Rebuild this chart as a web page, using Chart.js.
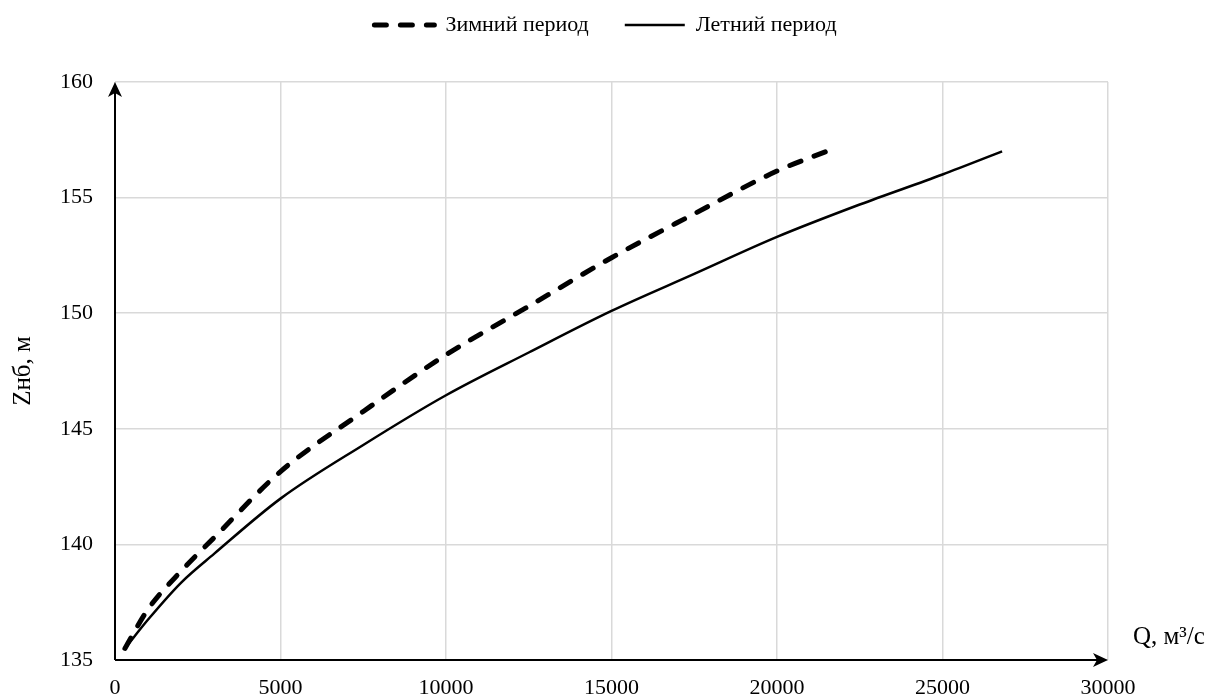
<!DOCTYPE html>
<html>
<head>
<meta charset="utf-8">
<script src="https://cdn.jsdelivr.net/npm/chart.js@4/dist/chart.umd.min.js"></script>
<style>
  html, body { margin: 0; padding: 0; background: #fff; }
  #wrap { width: 1211px; height: 699px; }
</style>
</head>
<body>
<div id="wrap"><canvas id="myChart" width="1211" height="699"></canvas></div>
<script>
// winter curve (dashed)
var winterQ = [300, 1000, 2000, 3000, 5000, 7500, 10000, 12500, 15000, 17500, 20000, 21500];
var winterZ = [135.5, 137.2, 138.85, 140.3, 143.15, 145.75, 148.2, 150.3, 152.4, 154.3, 156.15, 157.0];

// summer curve (solid)
var summerQ = [300, 1000, 2000, 3000, 5000, 7500, 10000, 12500, 15000, 17500, 20000, 22500, 25000, 26800];
var summerZ = [135.5, 136.75, 138.35, 139.6, 141.98, 144.3, 146.45, 148.3, 150.1, 151.7, 153.3, 154.7, 156.0, 157.0];

var seriesNames = ['Зимний период', 'Летний период'];
var xTitle = 'Q, м³/с';
var yTitle = 'Zнб, м';

function toPoints(xs, ys) {
    var pts = [];
    for (var i = 0; i < xs.length; i++) {
        pts.push({ x: xs[i], y: ys[i] });
    }
    return pts;
}

var serif = "'Liberation Serif', 'Times New Roman', serif";

// black axes with arrow heads + the Q label next to the arrow
var axesArrows = {
    id: 'axesArrows',
    afterDatasetsDraw: function (chart) {
        var ctx = chart.ctx;
        var a = chart.chartArea;
        ctx.save();
        ctx.strokeStyle = '#000';
        ctx.fillStyle = '#000';
        ctx.lineWidth = 2;
        ctx.beginPath();
        ctx.moveTo(a.left, a.bottom);
        ctx.lineTo(a.left, a.top + 8);
        ctx.moveTo(a.left, a.bottom);
        ctx.lineTo(a.right - 8, a.bottom);
        ctx.stroke();

        ctx.beginPath();
        ctx.moveTo(a.left, a.top);
        ctx.lineTo(a.left - 7, a.top + 15);
        ctx.lineTo(a.left, a.top + 11);
        ctx.lineTo(a.left + 7, a.top + 15);
        ctx.closePath();
        ctx.fill();

        ctx.beginPath();
        ctx.moveTo(a.right, a.bottom);
        ctx.lineTo(a.right - 15, a.bottom - 7);
        ctx.lineTo(a.right - 11, a.bottom);
        ctx.lineTo(a.right - 15, a.bottom + 7);
        ctx.closePath();
        ctx.fill();

        ctx.font = '25px ' + serif;
        ctx.textAlign = 'left';
        ctx.textBaseline = 'middle';
        ctx.fillText(xTitle, a.right + 25, a.bottom - 23);
        ctx.restore();
    }
};

var ctx = document.querySelector('#myChart').getContext('2d');
var myChart = new Chart(ctx, {
    type: 'line',
    data: {
        datasets: [{
            label: seriesNames[0],
            data: toPoints(winterQ, winterZ),
            borderColor: '#000',
            backgroundColor: '#000',
            borderWidth: 5,
            borderDash: [12, 14],
            borderCapStyle: 'round',
            pointRadius: 0,
            cubicInterpolationMode: 'monotone',
            fill: false
        }, {
            label: seriesNames[1],
            data: toPoints(summerQ, summerZ),
            borderColor: '#000',
            backgroundColor: '#000',
            borderWidth: 2.5,
            pointRadius: 0,
            cubicInterpolationMode: 'monotone',
            fill: false
        }]
    },
    options: {
        responsive: false,
        animation: false,
        layout: { padding: { left: 0, right: 0, top: -22, bottom: 0 } },
        plugins: {
            legend: {
                position: 'top',
                weight: 3000,
                labels: {
                    usePointStyle: true,
                    pointStyle: 'line',
                    pointStyleWidth: 60,
                    color: '#000',
                    padding: 36,
                    font: { family: serif, size: 22 },
                    generateLabels: function (chart) {
                        var items = Chart.defaults.plugins.legend.labels.generateLabels(chart);
                        items.forEach(function (it, i) {
                            var ds = chart.data.datasets[i];
                            it.lineDash = ds.borderDash || [];
                            it.lineWidth = ds.borderWidth;
                            it.lineCap = ds.borderCapStyle || 'butt';
                        });
                        return items;
                    }
                }
            },
            // empty title used as a gap between legend and plot
            title: {
                display: true,
                text: ' ',
                font: { size: 10 },
                padding: { top: 24, bottom: 0 }
            },
            tooltip: { enabled: false }
        },
        scales: {
            x: {
                type: 'linear',
                min: 0,
                max: 30000,
                ticks: {
                    stepSize: 5000,
                    color: '#000',
                    padding: 15,
                    maxRotation: 0,
                    font: { family: serif, size: 22 },
                    callback: function (v) { return String(v); }
                },
                grid: { color: '#d9d9d9', lineWidth: 1.5, drawTicks: false },
                border: { display: false },
                afterFit: function (scale) { scale.height = 39; }
            },
            y: {
                min: 135,
                max: 160,
                ticks: {
                    stepSize: 5,
                    color: '#000',
                    padding: 22,
                    font: { family: serif, size: 22 }
                },
                grid: { color: '#d9d9d9', lineWidth: 1.5, drawTicks: false },
                border: { display: false },
                title: {
                    display: true,
                    text: yTitle,
                    color: '#000',
                    padding: { top: 8, bottom: 0 },
                    font: { family: serif, size: 25 }
                },
                afterFit: function (scale) { scale.width = 115; }
            },
            // invisible right axis, keeps room for the Q label
            yRight: {
                position: 'right',
                display: true,
                ticks: { display: false },
                grid: { display: false },
                border: { display: false },
                afterFit: function (scale) { scale.width = 103; }
            }
        }
    },
    plugins: [axesArrows]
});
</script>
</body>
</html>
